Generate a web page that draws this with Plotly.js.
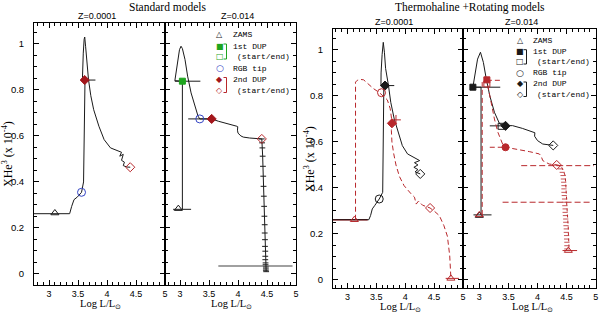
<!DOCTYPE html>
<html><head><meta charset="utf-8">
<script src="https://cdn.plot.ly/plotly-3.0.1.min.js"></script>
<style>html,body{margin:0;padding:0;background:#fff}#chart{width:600px;height:316px}</style>
</head><body><div id="chart"></div>
<script>
// ---------------- DATA ----------------
// Panel 1: standard models, Z=0.0001
const p1_track_x = [2.74, 3.355, 3.39, 3.43, 3.49, 3.56, 3.595, 3.605, 3.615, 3.62, 3.575, 3.578, 3.59, 3.605, 3.615, 3.63, 3.65, 3.68, 3.72, 3.77, 3.86, 3.95, 4.06, 4.25, 4.22, 4.28, 4.25, 4.30, 4.28, 4.34, 4.40];
const p1_track_y = [0.262, 0.262, 0.294, 0.323, 0.335, 0.355, 0.40, 0.60, 0.80, 0.843, 0.843, 0.88, 0.96, 1.02, 1.03, 0.99, 0.92, 0.845, 0.775, 0.714, 0.642, 0.584, 0.548, 0.529, 0.512, 0.52, 0.494, 0.486, 0.471, 0.465, 0.464];
const p1_bar_x = [3.575, 3.80];
const p1_bar_y = [0.843, 0.843];
const p1_event = ['zams', 'rgb', 'dup2s', 'dup2e'];
const p1_event_x = [3.10, 3.56, 3.615, 4.40];
const p1_event_y = [0.265, 0.355, 0.843, 0.464];

// Panel 2: standard models, Z=0.014
const p2_track_x = [3.04, 3.04, 2.91, 2.95, 2.99, 3.016, 3.04, 3.085, 3.13, 3.19, 3.26, 3.31, 3.34, 3.545, 3.66, 3.83, 3.98, 3.995, 3.99, 4.0, 4.05, 4.09, 4.2, 4.41];
const p2_track_y = [0.281, 0.838, 0.84, 0.92, 0.975, 0.99, 0.98, 0.932, 0.86, 0.787, 0.729, 0.686, 0.674, 0.674, 0.664, 0.654, 0.642, 0.64, 0.625, 0.612, 0.600, 0.595, 0.591, 0.587];
const p2_zbar_x = [2.88, 3.19];   const p2_zbar_y = [0.281, 0.281];
const p2_dbar_x = [2.91, 3.35];   const p2_dbar_y = [0.838, 0.838];
const p2_rbar_x = [3.14, 3.54];   const p2_rbar_y = [0.674, 0.674];
const p2_grey_x = [3.66, 4.94];   const p2_grey_y = [0.035, 0.035];
const p2_desc_x = [4.41, 4.415, 4.42, 4.425, 4.43, 4.435, 4.44, 4.445, 4.45, 4.455, 4.46, 4.46, 4.465, 4.465, 4.47, 4.47, 4.47, 4.475, 4.475, 4.48, 4.48, 4.48, 4.485];
const p2_desc_y = [0.587, 0.57, 0.548, 0.512, 0.468, 0.425, 0.381, 0.338, 0.294, 0.251, 0.214, 0.178, 0.149, 0.120, 0.099, 0.077, 0.062, 0.048, 0.040, 0.030, 0.022, 0.016, 0.010];
const p2_event = ['zams', 'dup1s', 'rgb', 'dup2s', 'dup2e'];
const p2_event_x = [2.97, 3.04, 3.34, 3.545, 4.41];
const p2_event_y = [0.284, 0.838, 0.674, 0.674, 0.587];

// Panel 3: thermohaline + rotating, Z=0.0001
const p3_std_x = [2.75, 3.37, 3.40, 3.43, 3.47, 3.52, 3.55, 3.61, 3.62, 3.63, 3.58, 3.582, 3.60, 3.62, 3.64, 3.66, 3.71, 3.75, 3.81, 3.90, 3.95, 4.04, 4.16, 4.25, 4.16, 4.22, 4.15, 4.22, 4.17, 4.26];
const p3_std_y = [0.262, 0.262, 0.28, 0.309, 0.323, 0.338, 0.352, 0.381, 0.60, 0.845, 0.845, 0.90, 0.98, 1.033, 0.99, 0.92, 0.845, 0.772, 0.70, 0.628, 0.584, 0.548, 0.533, 0.519, 0.51, 0.50, 0.49, 0.48, 0.47, 0.461];
const p3_sbar_x = [3.58, 3.81];   const p3_sbar_y = [0.845, 0.845];
const p3_std_event = ['rgb', 'dup2s', 'dup2e'];
const p3_std_event_x = [3.55, 3.65, 4.26];
const p3_std_event_y = [0.352, 0.845, 0.461];
const p3_rot_x = [3.14, 3.14, 3.17, 3.22, 3.28, 3.35, 3.45, 3.55, 3.62, 3.69, 3.74, 3.77, 3.76, 3.77, 3.80, 3.84, 3.90, 3.98, 4.10, 4.16, 4.19, 4.23, 4.30, 4.43, 4.50, 4.59, 4.67, 4.73, 4.77, 4.79];
const p3_rot_y = [0.262, 0.86, 0.868, 0.872, 0.870, 0.855, 0.832, 0.815, 0.80, 0.783, 0.745, 0.69, 0.65, 0.60, 0.55, 0.50, 0.45, 0.41, 0.375, 0.36, 0.33, 0.343, 0.325, 0.313, 0.30, 0.28, 0.236, 0.19, 0.106, 0.01];
const p3_rbar1_x = [2.75, 3.35]; const p3_rbar1_y = [0.262, 0.262];
const p3_rbar2_x = [4.70, 4.93]; const p3_rbar2_y = [0.007, 0.007];
const p3_rot_event = ['zams', 'rgb', 'cross', 'dup2s', 'dup2e', 'zams'];
const p3_rot_event_x = [3.12, 3.59, 3.84, 3.77, 4.43, 4.79];
const p3_rot_event_y = [0.262, 0.814, 0.696, 0.681, 0.313, 0.007];

// Panel 4: thermohaline + rotating, Z=0.014
const p4_std_x = [3.03, 3.03, 2.89, 2.93, 2.97, 3.02, 3.07, 3.12, 3.18, 3.26, 3.35, 3.45, 3.57, 3.74, 3.94, 3.955, 3.95, 4.0, 4.09, 4.27];
const p4_std_y = [0.283, 0.838, 0.838, 0.90, 0.96, 0.99, 0.946, 0.874, 0.801, 0.729, 0.678, 0.67, 0.671, 0.659, 0.642, 0.64, 0.625, 0.606, 0.591, 0.585];
const p4_zbar_x = [2.90, 3.21];  const p4_zbar_y = [0.283, 0.283];
const p4_dbar_x = [2.89, 3.36];  const p4_dbar_y = [0.838, 0.838];
const p4_rbar_x = [3.18, 3.49];  const p4_rbar_y = [0.67, 0.67];
const p4_std_event = ['zams', 'dup1s', 'dup1e', 'dup2s', 'dup2e'];
const p4_std_event_x = [3.0, 2.89, 3.375, 3.45, 4.27];
const p4_std_event_y = [0.28, 0.838, 0.668, 0.67, 0.585];
const p4_rot_x = [3.05, 3.05, 3.08, 3.13, 3.15, 3.2, 3.26, 3.32, 3.40, 3.45, 3.63, 3.86, 4.03, 4.06, 4.09, 4.2, 4.33];
const p4_rot_y = [0.283, 0.86, 0.87, 0.87, 0.84, 0.772, 0.70, 0.642, 0.591, 0.577, 0.57, 0.558, 0.548, 0.54, 0.519, 0.504, 0.50];
const p4_dash1_x = [3.13, 3.40]; const p4_dash1_y = [0.868, 0.868];
const p4_dash2_x = [3.18, 3.52]; const p4_dash2_y = [0.577, 0.577];
const p4_dash3_x = [3.72, 4.97]; const p4_dash3_y = [0.497, 0.497];
const p4_dash4_x = [3.40, 4.94]; const p4_dash4_y = [0.338, 0.338];
const p4_sbar_x = [4.43, 4.68];  const p4_sbar_y = [0.128, 0.128];
const p4_desc_x = [4.33, 4.40, 4.43, 4.46, 4.475, 4.48, 4.485, 4.49, 4.49, 4.49, 4.495, 4.50, 4.50, 4.505, 4.51, 4.51, 4.515, 4.52, 4.52, 4.525, 4.53, 4.53, 4.535, 4.535, 4.54, 4.54, 4.54];
const p4_desc_y = [0.50, 0.497, 0.483, 0.468, 0.454, 0.439, 0.425, 0.410, 0.396, 0.381, 0.367, 0.352, 0.338, 0.323, 0.309, 0.294, 0.280, 0.265, 0.251, 0.236, 0.222, 0.207, 0.193, 0.178, 0.164, 0.149, 0.135];
const p4_rot_event = ['zams', 'dup1s', 'dup1e', 'rgbf', 'dup2e', 'zams'];
const p4_rot_event_x = [3.0, 3.13, 3.13, 3.45, 4.33, 4.53];
const p4_rot_event_y = [0.283, 0.87, 0.852, 0.577, 0.50, 0.128];

const xTickVals = [3, 3.5, 4, 4.5, 5];
const yTickVals = [0, 0.2, 0.4, 0.6, 0.8, 1];

// ---------------- STYLE ----------------
const BLACK = '#1a1a1a', RED = '#b8282c', DRED = '#a3161b', GREEN = '#1ea51e', BLUE = '#3344c4', GREY = '#a0a0a0';
const SYM = {
  zams: ['triangle-up-open', 7], dup1s: ['square', 6], dup1e: ['square-open', 6],
  rgb: ['circle-open', 8], rgbf: ['circle', 7], dup2s: ['diamond', 7], dup2e: ['diamond-open', 7],
  cross: ['cross-thin-open', 7]
};
const COLORED = {zams: BLACK, dup1s: GREEN, dup1e: GREEN, rgb: BLUE, dup2s: DRED, dup2e: RED};

const traces = [];
function line(ax, x, y, color, dash, width, extra) {
  const t = {type: 'scatter', mode: 'lines', x: x, y: y, xaxis: 'x' + ax, yaxis: 'y' + ax,
    line: {color: color, width: width || 1, dash: dash || 'solid'}, hoverinfo: 'skip', showlegend: false};
  if (extra) Object.assign(t, extra);
  traces.push(t);
}
function events(ax, names, xs, ys, colorFn) {
  names.forEach((n, i) => {
    const c = colorFn(n);
    traces.push({type: 'scatter', mode: 'markers', x: [xs[i]], y: [ys[i]], xaxis: 'x' + ax, yaxis: 'y' + ax,
      marker: {symbol: SYM[n][0], size: SYM[n][1], color: c, line: {color: c, width: 1}},
      hoverinfo: 'skip', showlegend: false});
  });
}

// Panel 1
line('', p1_track_x, p1_track_y, BLACK);
line('', p1_bar_x, p1_bar_y, BLACK);
events('', p1_event, p1_event_x, p1_event_y, n => COLORED[n]);

// Panel 2
line(2, p2_grey_x, p2_grey_y, GREY, 'solid', 2);
line(2, p2_zbar_x, p2_zbar_y, BLACK);
line(2, p2_dbar_x, p2_dbar_y, BLACK);
line(2, p2_rbar_x, p2_rbar_y, BLACK);
line(2, p2_track_x, p2_track_y, BLACK);
line(2, p2_desc_x, p2_desc_y, BLACK, 'solid', 1,
  {error_x: {type: 'constant', value: 0.05, width: 0, thickness: 1, color: BLACK}});
events(2, p2_event, p2_event_x, p2_event_y, n => COLORED[n]);

// Panel 3
line(3, p3_rbar1_x, p3_rbar1_y, DRED, 'solid', 1.5);
line(3, p3_std_x, p3_std_y, BLACK);
line(3, p3_sbar_x, p3_sbar_y, BLACK);
line(3, p3_rot_x, p3_rot_y, RED, '5px,3px', 1);
line(3, p3_rbar2_x, p3_rbar2_y, RED, 'solid', 1);
events(3, p3_std_event, p3_std_event_x, p3_std_event_y, n => BLACK);
events(3, p3_rot_event, p3_rot_event_x, p3_rot_event_y, n => RED);

// Panel 4
line(4, p4_dash3_x, p4_dash3_y, RED, '6px,3px', 1);
line(4, p4_dash4_x, p4_dash4_y, RED, '6px,3px', 1);
line(4, p4_dash1_x, p4_dash1_y, RED, '5px,3px', 1);
line(4, p4_dash2_x, p4_dash2_y, RED, '5px,3px', 1);
line(4, p4_sbar_x, p4_sbar_y, RED, 'solid', 1);
line(4, p4_zbar_x, p4_zbar_y, BLACK);
line(4, p4_dbar_x, p4_dbar_y, BLACK);
line(4, p4_rbar_x, p4_rbar_y, BLACK);
line(4, p4_std_x, p4_std_y, BLACK);
line(4, p4_rot_x, p4_rot_y, RED, '5px,3px', 1);
line(4, p4_desc_x, p4_desc_y, RED, 'dot', 1,
  {error_x: {type: 'constant', symmetric: false, value: 0.01, valueminus: 0.08, width: 0, thickness: 0.8, color: RED}});
events(4, p4_std_event, p4_std_event_x, p4_std_event_y, n => BLACK);
events(4, p4_rot_event, p4_rot_event_x, p4_rot_event_y, n => RED);

// ---------------- LAYOUT ----------------
const W = 600, H = 316;
const TICKFONT = {family: 'Liberation Sans, Arial, sans-serif', size: 9, color: '#000'};
function xaxis(d0, d1, r0, r1, anchor) {
  return {domain: [d0 / W, d1 / W], range: [r0, r1], anchor: anchor, showline: true, linecolor: '#000', linewidth: 1,
    mirror: 'allticks', ticks: 'inside', ticklen: 5, tickwidth: 1, tickcolor: '#000',
    tickmode: 'array', tickvals: xTickVals, ticktext: xTickVals.map(String),
    minor: {dtick: 0.1, tick0: 0, ticklen: 3, ticks: 'inside', tickcolor: '#000', tickwidth: 1},
    showgrid: false, zeroline: false, tickfont: TICKFONT, ticklabelstandoff: 0, fixedrange: true};
}
function yaxis(top, bottom, r0, r1, anchor, labels) {
  return {domain: [1 - bottom / H, 1 - top / H], range: [r0, r1], anchor: anchor, showline: true, linecolor: '#000', linewidth: 1,
    mirror: 'allticks', ticks: 'inside', ticklen: 5, tickwidth: 1, tickcolor: '#000',
    tickmode: 'array', tickvals: yTickVals, ticktext: yTickVals.map(String),
    minor: {dtick: 0.05, tick0: 0, ticklen: 3, ticks: 'inside', tickcolor: '#000', tickwidth: 1},
    showgrid: false, zeroline: false, showticklabels: labels, tickfont: {family: TICKFONT.family, size: 9.5, color: '#000'},
    ticklabelstandoff: 7, fixedrange: true};
}

const annotations = [];
function ann(text, px, py, font, opts) {
  annotations.push(Object.assign({text: text, x: px / W, y: 1 - py / H, xref: 'paper', yref: 'paper',
    showarrow: false, xanchor: 'center', yanchor: 'middle', font: font}, opts || {}));
}
const SERIF = 'Liberation Serif, Times New Roman, serif';
const SANS = 'Liberation Sans, Arial, sans-serif';
const MONO = 'Liberation Mono, Courier New, monospace';

ann('Standard models', 167, 7, {family: SERIF, size: 11.5, color: '#000'});
ann('Thermohaline +Rotating models', 470, 7, {family: SERIF, size: 11.5, color: '#000'});
ann('Z=0.0001', 97, 16, {family: SANS, size: 9, color: '#000'});
ann('Z=0.014', 237, 16, {family: SANS, size: 9, color: '#000'});
ann('Z=0.0001', 394, 22, {family: SANS, size: 9, color: '#000'});
ann('Z=0.014', 521, 22, {family: SANS, size: 9, color: '#000'});
const XT = 'Log L/L<sub>\u2299</sub>';
const XTF = {family: SERIF, size: 10.5, color: '#000'};
ann(XT, 100, 0, XTF, {yanchor: 'bottom', y: 1 - 313 / H});
ann(XT, 231, 0, XTF, {yanchor: 'bottom', y: 1 - 313 / H});
ann(XT, 400, 0, XTF, {yanchor: 'bottom', y: 0});
ann(XT, 532, 0, XTF, {yanchor: 'bottom', y: 0});
const YT = 'XHe<sup>3</sup> (x 10<sup>-4</sup>)';
ann(YT, 8, 154, {family: SERIF, size: 12, color: '#000'}, {textangle: -90});
ann(YT, 309, 159, {family: SERIF, size: 12, color: '#000'}, {textangle: -90});

// in-panel keys
const shapes = [];
function key(sx, tx, rows, cols, bracketColor1, bracketColor2) {
  const SY = '\u25B3', SQF = '\u25A0', SQO = '\u25A1', CO = '\u25CB', DF = '\u25C6', DO = '\u25C7';
  const sym = [SY, SQF, SQO, CO, DF, DO];
  const lab = ['ZAMS', '1st DUP', '(start/end)', 'RGB tip', '2nd DUP', '(start/end)'];
  const indent = [0, 0, 4, 0, 0, 4];
  for (let i = 0; i < 6; i++) {
    ann(sym[i], sx, rows[i], {family: 'DejaVu Sans', size: i === 3 ? 9 : 8, color: cols[i]});
    ann(lab[i], tx + indent[i], rows[i], {family: MONO, size: 8, color: '#000'}, {xanchor: 'left'});
  }
  const bx0 = sx + 3.5, bx1 = sx + 6.5;
  [[1, 2, bracketColor1], [4, 5, bracketColor2]].forEach(([a, b, c]) => {
    const y0 = 1 - (rows[a] - 2) / H, y1 = 1 - (rows[b] + 2) / H;
    shapes.push({type: 'path', xref: 'paper', yref: 'paper',
      path: `M ${bx0 / W} ${y0} L ${bx1 / W} ${y0} L ${bx1 / W} ${y1} L ${bx0 / W} ${y1}`,
      line: {color: c, width: 1}});
  });
}
key(220, 231, [34.5, 46, 57, 68, 79.5, 90.5], [BLACK, GREEN, GREEN, BLUE, DRED, RED], GREEN, RED);
key(520, 531, [40.5, 51.7, 62, 72.8, 84, 94.5], [BLACK, BLACK, BLACK, BLACK, BLACK, BLACK], BLACK, BLACK);

const layout = {
  width: W, height: H, margin: {l: 0, r: 0, t: 0, b: 0}, paper_bgcolor: '#fff', plot_bgcolor: 'rgba(0,0,0,0)',
  showlegend: false, font: {family: SANS, color: '#000'},
  xaxis: xaxis(34, 165, 2.74, 5, 'y'),
  yaxis: yaxis(23, 285, -0.048, 1.091, 'x', true),
  xaxis2: xaxis(165, 296, 2.74, 5, 'y2'),
  yaxis2: yaxis(23, 285, -0.048, 1.091, 'x2', false),
  xaxis3: xaxis(333, 463, 2.75, 5, 'y3'),
  yaxis3: yaxis(29, 288, -0.0348, 1.091, 'x3', true),
  xaxis4: xaxis(463, 596, 2.72, 5.005, 'y4'),
  yaxis4: yaxis(29, 288, -0.0348, 1.091, 'x4', false),
  annotations: annotations, shapes: shapes
};
Plotly.newPlot('chart', traces, layout, {staticPlot: true, displayModeBar: false});
</script></body></html>
